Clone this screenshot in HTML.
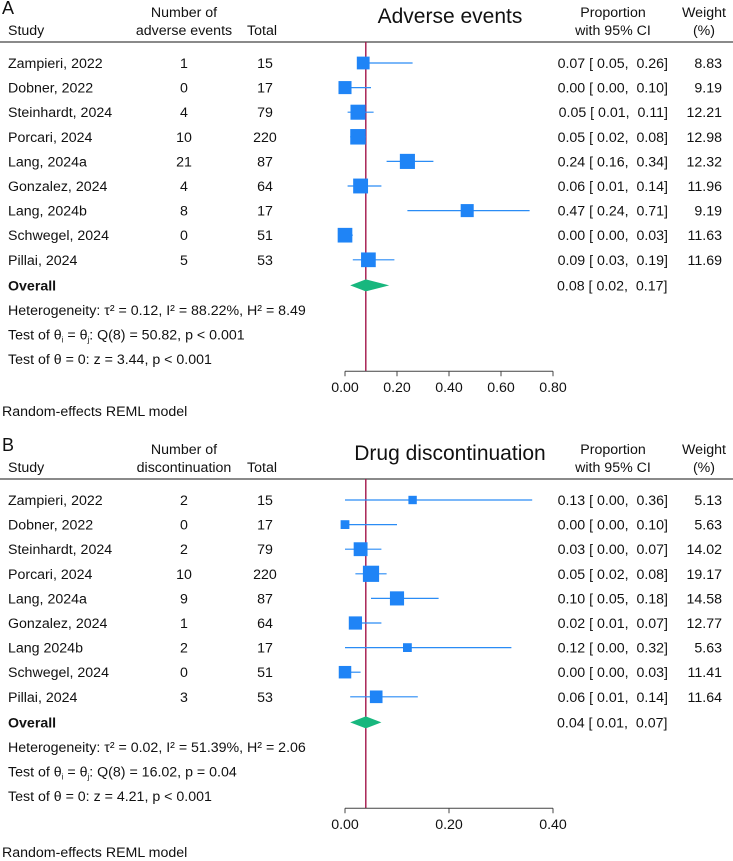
<!DOCTYPE html>
<html><head><meta charset="utf-8"><style>
body{margin:0;background:#fff}
svg{display:block;font-family:"Liberation Sans",Arial,sans-serif;font-size:14.2px;fill:#111}
</style></head><body>
<svg id="c" width="733" height="861" viewBox="0 0 733 861"></svg>
<script>
const studiesA=["Zampieri, 2022","Dobner, 2022","Steinhardt, 2024","Porcari, 2024","Lang, 2024a","Gonzalez, 2024","Lang, 2024b","Schwegel, 2024","Pillai, 2024"];
const eventsA=[1,0,4,10,21,4,8,0,5];
const totalA=[15,17,79,220,87,64,17,51,53];
const estA=[0.07,0.00,0.05,0.05,0.24,0.06,0.47,0.00,0.09];
const loA=[0.05,0.00,0.01,0.02,0.16,0.01,0.24,0.00,0.03];
const hiA=[0.26,0.10,0.11,0.08,0.34,0.14,0.71,0.03,0.19];
const wA=[8.83,9.19,12.21,12.98,12.32,11.96,9.19,11.63,11.69];
const overallA=[0.08,0.02,0.17];
const ticksA=[0,0.2,0.4,0.6,0.8];
const statsA=["Heterogeneity: τ² = 0.12, I² = 88.22%, H² = 8.49","Test of θ<sub>i</sub> = θ<sub>j</sub>: Q(8) = 50.82, p < 0.001","Test of θ = 0: z = 3.44, p < 0.001"];

const studiesB=["Zampieri, 2022","Dobner, 2022","Steinhardt, 2024","Porcari, 2024","Lang, 2024a","Gonzalez, 2024","Lang 2024b","Schwegel, 2024","Pillai, 2024"];
const eventsB=[2,0,2,10,9,1,2,0,3];
const totalB=[15,17,79,220,87,64,17,51,53];
const estB=[0.13,0.00,0.03,0.05,0.10,0.02,0.12,0.00,0.06];
const loB=[0.00,0.00,0.00,0.02,0.05,0.01,0.00,0.00,0.01];
const hiB=[0.36,0.10,0.07,0.08,0.18,0.07,0.32,0.03,0.14];
const wB=[5.13,5.63,14.02,19.17,14.58,12.77,5.63,11.41,11.64];
const overallB=[0.04,0.01,0.07];
const ticksB=[0,0.2,0.4];
const statsB=["Heterogeneity: τ² = 0.02, I² = 51.39%, H² = 2.06","Test of θ<sub>i</sub> = θ<sub>j</sub>: Q(8) = 16.02, p = 0.04","Test of θ = 0: z = 4.21, p < 0.001"];

const svg=document.getElementById('c');
const NS="http://www.w3.org/2000/svg";
function el(tag,attrs,name,parent){const e=document.createElementNS(NS,tag);for(const k in attrs)e.setAttribute(k,attrs[k]);


(parent||svg).appendChild(e);return e;}
function txt(x,y,s,name,anchor,extra){const t=el('text',Object.assign({x:x,y:y,'text-anchor':anchor||'start'},extra||{}),name);
s=s.replace(/<sub>(.)<\/sub>/g,'<tspan font-size="8" dy="3">$1</tspan><tspan dy="-3">\u200b</tspan>');t.innerHTML=s;return t;}
const f2=v=>v.toFixed(2);

function panel(o){
  const sx=v=>345+v*o.scale;
  const y0=o.top;
  txt(2,y0-28,o.letter,'panel-label-'+o.letter,'start',{'font-size':'18'});
  txt(184,y0-25,'Number of','col-header-number','middle');
  txt(8,y0-7,'Study','col-header-study');
  txt(184,y0-7,o.numLabel,'col-header-number-2','middle');
  txt(262,y0-7,'Total','col-header-total','middle');
  txt(450,y0-19,o.title,'panel-title','middle',{'font-size':'21'});
  txt(613,y0-25,'Proportion','col-header-proportion','middle');
  txt(613,y0-7,'with 95% CI','col-header-ci','middle');
  txt(704,y0-25,'Weight','col-header-weight','middle');
  txt(704,y0-7,'(%)','col-header-weight-unit','middle');
  el('line',{x1:0,x2:733,y1:y0,y2:y0,stroke:'#444','stroke-width':1.2},'header-rule');
  const rows=o.studies.length, dy=24.6, r0=y0+21;
  const axisY=r0+dy*(rows+3)+13;
  el('line',{x1:sx(o.overall[0]),x2:sx(o.overall[0]),y1:y0,y2:axisY,stroke:'#a3164a','stroke-width':1.4},'overall-effect-line');
  for(let i=0;i<rows;i++){
    const y=r0+i*dy;
    txt(8,y+5,o.studies[i],'study-label');
    txt(184,y+5,String(o.events[i]),'event-count','middle');
    txt(265,y+5,String(o.total[i]),'total-count','middle');
    el('line',{x1:sx(o.lo[i]),x2:sx(o.hi[i]),y1:y,y2:y,stroke:'#2a8cf5','stroke-width':1.2},'ci-line');
    const s=o.k*Math.sqrt(o.w[i]);
    el('rect',{x:sx(o.est[i])-s/2,y:y-s/2,width:s,height:s,fill:'#1f84f6'},'study-marker');
    txt(668,y+5,f2(o.est[i])+' [ '+f2(o.lo[i])+', &#160;'+f2(o.hi[i])+']','study-ci-text','end');
    txt(722,y+5,o.w[i].toFixed(2),'study-weight','end');
  }
  const yo=r0+rows*dy+1;
  txt(8,yo+5,'Overall','overall-label','start',{'font-weight':'bold'});
  const a=sx(o.overall[1]),b=sx(o.overall[2]),c=sx(o.overall[0]);
  el('polygon',{points:`${a},${yo} ${c},${yo-6} ${b},${yo} ${c},${yo+6}`,fill:'#18b77e'},'overall-diamond');
  txt(557,yo+5,f2(o.overall[0])+' [ '+f2(o.overall[1])+', &#160;'+f2(o.overall[2])+']','overall-ci-text');
  o.stats.forEach((s,j)=>txt(8,yo+dy*(j+1)+5,s,'stats-line'));
  const last=o.ticks[o.ticks.length-1];
  el('line',{x1:sx(0),x2:sx(last),y1:axisY,y2:axisY,stroke:'#444','stroke-width':1},'x-axis');
  o.ticks.forEach(t=>{el('line',{x1:sx(t),x2:sx(t),y1:axisY,y2:axisY+5,stroke:'#444'},'x-tick');
    txt(sx(t),axisY+21,f2(t),'x-tick-label','middle');});
  txt(2,o.modelY,'Random-effects REML model','model-note');
}
panel({letter:'A',top:42,title:'Adverse events',numLabel:'adverse events',studies:studiesA,events:eventsA,total:totalA,est:estA,lo:loA,hi:hiA,w:wA,overall:overallA,ticks:ticksA,stats:statsA,scale:260,k:4.3,modelY:416});
panel({letter:'B',top:479,title:'Drug discontinuation',numLabel:'discontinuation',studies:studiesB,events:eventsB,total:totalB,est:estB,lo:loB,hi:hiB,w:wB,overall:overallB,ticks:ticksB,stats:statsB,scale:520,k:3.7,modelY:857});
</script>
</body></html>
